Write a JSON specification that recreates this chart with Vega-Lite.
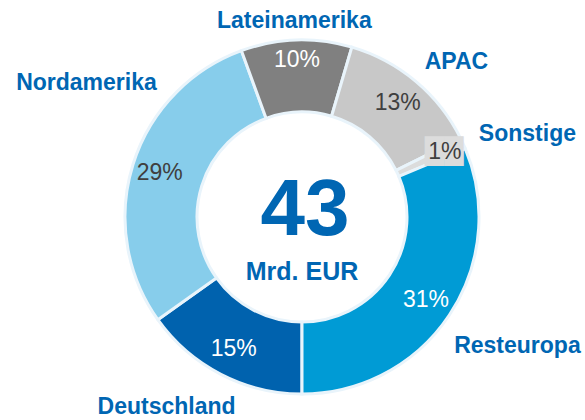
{
  "$schema": "https://vega.github.io/schema/vega-lite/v6.json",
  "width": 566,
  "height": 406,
  "autosize": {"type": "none"},
  "padding": {"left": 19, "top": 14, "right": 0, "bottom": 0},
  "background": "white",
  "config": {"view": {"stroke": null}, "font": "Liberation Sans"},
  "datasets": {
    "regions": [
      {"region": "Deutschland", "share": 0.15, "ord": 1},
      {"region": "Nordamerika", "share": 0.29, "ord": 2},
      {"region": "Lateinamerika", "share": 0.10, "ord": 3},
      {"region": "APAC", "share": 0.13, "ord": 4},
      {"region": "Sonstige", "share": 0.01, "ord": 5},
      {"region": "Resteuropa", "share": 0.31, "ord": 6}
    ],
    "center": [{"total": "43", "unit": "Mrd. EUR"}]
  },
  "layer": [
    {
      "data": {"name": "regions"},
      "mark": {"type": "arc", "innerRadius": 105, "outerRadius": 177, "stroke": "#e9f4fb", "strokeWidth": 3},
      "encoding": {
        "theta": {"field": "share", "type": "quantitative", "stack": true, "scale": {"range": [3.14159265, 9.42477796]}},
        "order": {"field": "ord", "type": "quantitative"},
        "color": {
          "field": "region", "type": "nominal", "legend": null,
          "scale": {
            "domain": ["Deutschland", "Nordamerika", "Lateinamerika", "APAC", "Sonstige", "Resteuropa"],
            "range": ["#0062ae", "#87cdeb", "#808080", "#c8c8c8", "#dcdcdc", "#009bd5"]
          }
        }
      }
    },
    {
      "data": {"name": "regions"},
      "mark": {"type": "text", "radius": 156, "font": "DejaVu Sans", "fontSize": 25, "align": "center", "baseline": "middle", "color": "#dcdcdc"},
      "encoding": {
        "theta": {"field": "share", "type": "quantitative", "stack": true},
        "order": {"field": "ord", "type": "quantitative"},
        "text": {"condition": {"test": "datum.region === 'Sonstige'", "value": "██"}, "value": ""}
      }
    },
    {
      "data": {"name": "regions"},
      "mark": {"type": "text", "radius": 149, "fontSize": 23, "align": "center", "baseline": "middle"},
      "encoding": {
        "theta": {"field": "share", "type": "quantitative", "stack": true},
        "order": {"field": "ord", "type": "quantitative"},
        "text": {"condition": {"test": "datum.region !== 'Sonstige' && datum.region !== 'Lateinamerika'", "field": "share", "format": ".0%"}, "value": ""},
        "color": {"condition": {"test": "datum.region === 'Deutschland' || datum.region === 'Resteuropa'", "value": "#ffffff"}, "value": "#3f3f3f"}
      }
    },
    {
      "data": {"name": "regions"},
      "mark": {"type": "text", "radius": 157, "fontSize": 23, "align": "center", "baseline": "middle"},
      "encoding": {
        "theta": {"field": "share", "type": "quantitative", "stack": true},
        "order": {"field": "ord", "type": "quantitative"},
        "text": {"condition": {"test": "datum.region === 'Sonstige' || datum.region === 'Lateinamerika'", "field": "share", "format": ".0%"}, "value": ""},
        "color": {"condition": {"test": "datum.region === 'Lateinamerika'", "value": "#ffffff"}, "value": "#3f3f3f"}
      }
    },
    {
      "data": {"name": "regions"},
      "mark": {"type": "text", "radius": 210, "dx": -1, "dy": 14, "fontSize": 23, "fontWeight": "bold", "align": "center", "baseline": "middle", "color": "#0066b3"},
      "encoding": {
        "theta": {"field": "share", "type": "quantitative", "stack": true},
        "order": {"field": "ord", "type": "quantitative"},
        "text": {"condition": {"test": "datum.region === 'Lateinamerika'", "field": "region"}, "value": ""}
      }
    },
    {
      "data": {"name": "regions"},
      "mark": {"type": "text", "radius": 210, "dx": 19.5, "dy": 5.7, "fontSize": 23, "fontWeight": "bold", "align": "center", "baseline": "middle", "color": "#0066b3"},
      "encoding": {
        "theta": {"field": "share", "type": "quantitative", "stack": true},
        "order": {"field": "ord", "type": "quantitative"},
        "text": {"condition": {"test": "datum.region === 'APAC'", "field": "region"}, "value": ""}
      }
    },
    {
      "data": {"name": "regions"},
      "mark": {"type": "text", "radius": 210, "dx": 34.4, "dy": 3.9, "fontSize": 23, "fontWeight": "bold", "align": "center", "baseline": "middle", "color": "#0066b3"},
      "encoding": {
        "theta": {"field": "share", "type": "quantitative", "stack": true},
        "order": {"field": "ord", "type": "quantitative"},
        "text": {"condition": {"test": "datum.region === 'Sonstige'", "field": "region"}, "value": ""}
      }
    },
    {
      "data": {"name": "regions"},
      "mark": {"type": "text", "radius": 210, "dx": 40.6, "dy": 12.8, "fontSize": 23, "fontWeight": "bold", "align": "center", "baseline": "middle", "color": "#0066b3"},
      "encoding": {
        "theta": {"field": "share", "type": "quantitative", "stack": true},
        "order": {"field": "ord", "type": "quantitative"},
        "text": {"condition": {"test": "datum.region === 'Resteuropa'", "field": "region"}, "value": ""}
      }
    },
    {
      "data": {"name": "regions"},
      "mark": {"type": "text", "radius": 210, "dx": -39.2, "dy": 3.7, "fontSize": 23, "fontWeight": "bold", "align": "center", "baseline": "middle", "color": "#0066b3"},
      "encoding": {
        "theta": {"field": "share", "type": "quantitative", "stack": true},
        "order": {"field": "ord", "type": "quantitative"},
        "text": {"condition": {"test": "datum.region === 'Deutschland'", "field": "region"}, "value": ""}
      }
    },
    {
      "data": {"name": "regions"},
      "mark": {"type": "text", "radius": 210, "dx": -15, "dy": -71.3, "fontSize": 23, "fontWeight": "bold", "align": "center", "baseline": "middle", "color": "#0066b3"},
      "encoding": {
        "theta": {"field": "share", "type": "quantitative", "stack": true},
        "order": {"field": "ord", "type": "quantitative"},
        "text": {"condition": {"test": "datum.region === 'Nordamerika'", "field": "region"}, "value": ""}
      }
    },
    {
      "data": {"name": "center"},
      "mark": {"type": "text", "dx": 3, "dy": -6.4, "fontSize": 80, "fontWeight": "bold", "align": "center", "baseline": "middle", "color": "#0066b3"},
      "encoding": {"text": {"field": "total"}}
    },
    {
      "data": {"name": "center"},
      "mark": {"type": "text", "dx": 0, "dy": 54.5, "fontSize": 25, "fontWeight": "bold", "align": "center", "baseline": "middle", "color": "#0066b3"},
      "encoding": {"text": {"field": "unit"}}
    }
  ]
}
